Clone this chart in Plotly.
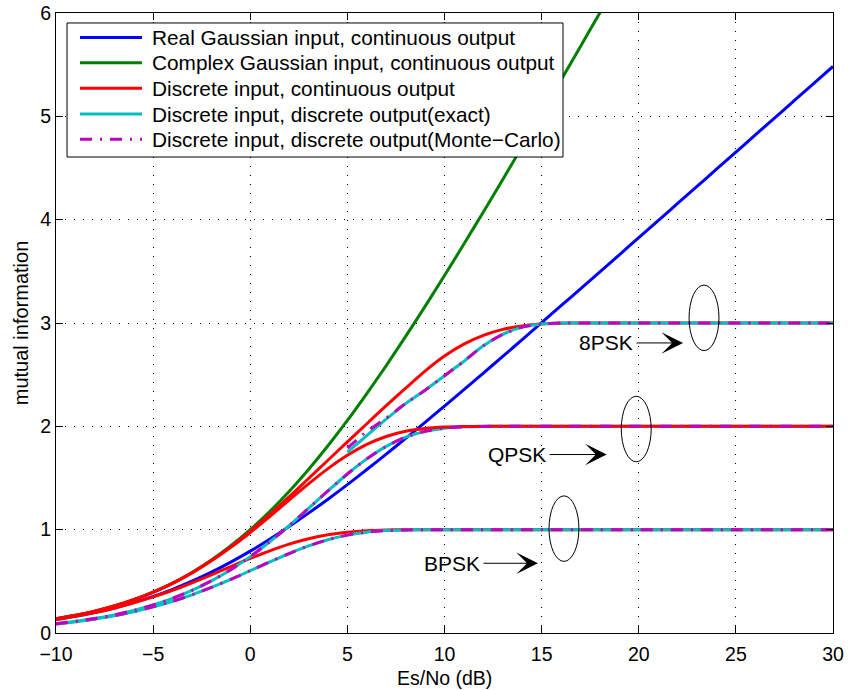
import plotly.graph_objects as go

# Es/No grid in dB
SNR_DB = list(range(-10, 31))

# Gaussian inputs, continuous output
real_gauss = [0.1315, 0.162, 0.199, 0.242, 0.294, 0.354, 0.423, 0.501, 0.589, 0.686,
              0.792, 0.907, 1.030, 1.160, 1.295, 1.436, 1.582, 1.731, 1.884, 2.039,
              2.196, 2.355, 2.515, 2.677, 2.839, 3.003, 3.167, 3.331, 3.495, 3.660,
              3.826, 3.991, 4.157, 4.322, 4.488, 4.654, 4.820, 4.985, 5.151, 5.317, 5.483]
complex_gauss = [0.1375, 0.171, 0.212, 0.262, 0.323, 0.396, 0.483, 0.586, 0.706, 0.844,
                 1.000, 1.176, 1.370, 1.583, 1.812, 2.057, 2.317, 2.588, 2.870, 3.161,
                 3.459, 3.765, 4.075, 4.389, 4.707, 5.028, 5.351, 5.676, 6.002, 6.330]

# Discrete input, continuous output
bpsk_cont = [0.130, 0.161, 0.197, 0.240, 0.291, 0.349, 0.414, 0.486, 0.5635, 0.643,
             0.7217, 0.7955, 0.860, 0.912, 0.951, 0.976, 0.990, 0.9965, 0.9991, 0.9998] + [1.0] * 21
qpsk_cont = [0.137, 0.170, 0.211, 0.261, 0.322, 0.394, 0.480, 0.582, 0.698, 0.829,
             0.973, 1.127, 1.286, 1.443, 1.591, 1.720, 1.825, 1.902, 1.952, 1.980,
             1.993, 1.998] + [2.0] * 19
psk8_cont = [0.137, 0.171, 0.211, 0.261, 0.322, 0.395, 0.481, 0.583, 0.702, 0.836,
             0.985, 1.148, 1.318, 1.495, 1.672, 1.850, 2.025, 2.200, 2.370, 2.535,
             2.680, 2.795, 2.880, 2.938, 2.972, 2.990, 2.997] + [3.0] * 14

# Discrete input, discrete output (exact)
bpsk_hard = [0.0876, 0.109, 0.1356, 0.1675, 0.2064, 0.2524, 0.3067, 0.3695, 0.441, 0.519,
             0.603, 0.6875, 0.769, 0.8426, 0.903, 0.947, 0.976, 0.991, 0.997, 0.9995] + [1.0] * 21
qpsk_hard = [0.090, 0.113, 0.141, 0.175, 0.218, 0.271, 0.335, 0.413, 0.505, 0.613,
             0.739, 0.882, 1.038, 1.206, 1.375, 1.539, 1.685, 1.806, 1.895, 1.951,
             1.982, 1.995, 1.999] + [2.0] * 18
SNR_DB_8PSK = list(range(5, 31))
psk8_hard = [1.75, 1.91, 2.07, 2.22, 2.35, 2.49, 2.63, 2.78, 2.89, 2.96, 2.99] + [3.0] * 15

# Discrete input, discrete output (Monte-Carlo)
bpsk_mc = list(bpsk_hard)
qpsk_mc = list(qpsk_hard)
psk8_mc = [1.79, 1.95, 2.08, 2.22, 2.35, 2.49, 2.63, 2.78, 2.89, 2.96, 2.99] + [3.0] * 15

LEGEND_NAMES = ["Real Gaussian input, continuous output",
                "Complex Gaussian input, continuous output",
                "Discrete input, continuous output",
                "Discrete input, discrete output(exact)",
                "Discrete input, discrete output(Monte\u2212Carlo)"]

BLUE, GREEN, RED, CYAN, MAGENTA = "#0000ff", "#007f00", "#ff0000", "#00bfbf", "#bf00bf"
LEGEND_COLORS = [BLUE, GREEN, RED, CYAN, MAGENTA]
LW = 3
MC_DASH = "12px,8px,2px,8px"
FONT = "Liberation Sans, Arial, sans-serif"

fig = go.Figure()


def add(x, y, color, dash="solid"):
    fig.add_trace(go.Scatter(
        x=x, y=y, mode="lines", showlegend=False,
        line=dict(color=color, width=LW, dash=dash, shape="spline", smoothing=0.8),
        hoverinfo="skip"))


add(SNR_DB, real_gauss, BLUE)
add(SNR_DB[:len(complex_gauss)], complex_gauss, GREEN)
add(SNR_DB, bpsk_cont, RED)
add(SNR_DB, bpsk_hard, CYAN)
add(SNR_DB, bpsk_mc, MAGENTA, MC_DASH)
add(SNR_DB, qpsk_hard, CYAN)
add(SNR_DB, qpsk_cont, RED)
add(SNR_DB, qpsk_mc, MAGENTA, MC_DASH)
add(SNR_DB, psk8_cont, RED)
add(SNR_DB_8PSK, psk8_hard, CYAN)
add(SNR_DB_8PSK, psk8_mc, MAGENTA, MC_DASH)

# Ellipses grouping the saturated curves, with labelled arrows
groups = [  # label, ellipse centre (x, y), arrow tail x, arrow head x, arrow y
    ("8PSK", 23.36, 3.05, 19.81, 22.28, 2.807),
    ("QPSK", 19.87, 1.974, 15.33, 18.35, 1.727),
    ("BPSK", 16.15, 1.01, 11.93, 14.81, 0.675),
]
RX, RY = 0.77, 0.317
for label, cx, cy, tail, head, ay in groups:
    fig.add_shape(type="circle", xref="x", yref="y",
                  x0=cx - RX, x1=cx + RX, y0=cy - RY, y1=cy + RY,
                  line=dict(color="black", width=1))
    fig.add_annotation(x=head, y=ay, ax=tail, ay=ay, axref="x", ayref="y",
                       xref="x", yref="y", text="", showarrow=True,
                       arrowhead=3, arrowsize=3.6, arrowwidth=1, arrowcolor="black",
                       standoff=0, startstandoff=0)
    fig.add_annotation(x=tail, y=ay, xref="x", yref="y", text=label,
                       showarrow=False, xanchor="right", yanchor="middle",
                       font=dict(size=21, color="black", family=FONT))

# Boxed legend in the upper-left corner of the axes
LEG_X0, LEG_X1, LEG_Y0, LEG_Y1 = 0.0142, 0.6525, 0.7677, 0.9839
LEG_LINE_X0, LEG_LINE_X1, LEG_TEXT_X = 0.0309, 0.1107, 0.1210
LEG_ROW_Y = [0.9606, 0.9199, 0.8788, 0.8369, 0.7965]
fig.add_shape(type="rect", xref="paper", yref="paper",
              x0=LEG_X0, x1=LEG_X1, y0=LEG_Y0, y1=LEG_Y1,
              line=dict(color="black", width=1), fillcolor="white", layer="above")
for name, color, ry in zip(LEGEND_NAMES, LEGEND_COLORS, LEG_ROW_Y):
    dash = MC_DASH if color == MAGENTA else "solid"
    fig.add_shape(type="line", xref="paper", yref="paper",
                  x0=LEG_LINE_X0, x1=LEG_LINE_X1, y0=ry, y1=ry,
                  line=dict(color=color, width=LW, dash=dash), layer="above")
    fig.add_annotation(x=LEG_TEXT_X, y=ry, xref="paper", yref="paper", text=name,
                       showarrow=False, xanchor="left", yanchor="middle",
                       font=dict(size=20.8, color="black", family=FONT))

# x-axis title placed under the tick labels
fig.add_annotation(x=0.5, y=-0.0726, xref="paper", yref="paper", text="Es/No (dB)",
                   showarrow=False, xanchor="center", yanchor="middle",
                   font=dict(size=19.5, color="black", family=FONT))

axis_common = dict(
    showline=True, linecolor="black", linewidth=1, mirror="allticks",
    ticks="inside", ticklen=7, tickwidth=1, tickcolor="black",
    showgrid=True, gridcolor="black", gridwidth=1, griddash="1px,8px",
    zeroline=False, tickfont=dict(size=19.5, color="black", family=FONT),
)

fig.update_xaxes(range=[-10, 30], tickmode="array", tickvals=list(range(-10, 31, 5)),
                 ticklabelstandoff=4, **axis_common)
fig.update_yaxes(range=[0, 6], tickmode="array", tickvals=list(range(0, 7)),
                 title=dict(text="mutual information", font=dict(size=20, color="black", family=FONT),
                            standoff=6),
                 ticklabelstandoff=0, **axis_common)

fig.update_layout(
    width=848, height=690,
    margin=dict(l=56, r=15, t=13, b=57, autoexpand=False),
    paper_bgcolor="white", plot_bgcolor="white",
    font=dict(family=FONT, size=20, color="black"),
    showlegend=False,
)

fig.write_html("out.html")
